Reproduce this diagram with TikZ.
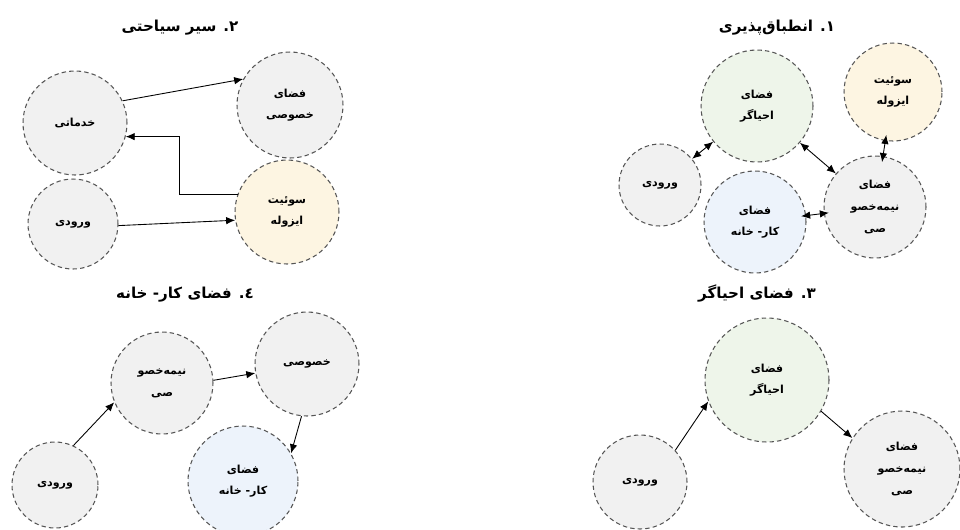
\documentclass[tikz,border=0pt]{standalone}
\usepackage{fontspec}
\usetikzlibrary{arrows.meta}
\newfontfamily\farsi[Script=Arabic]{DejaVu Sans}
\TeXXeTstate=1
\newcommand{\fa}[1]{\beginR #1\endR}
\definecolor{zonegray}{HTML}{F1F1F1}
\definecolor{zonegreen}{HTML}{EEF5EA}
\definecolor{zoneyellow}{HTML}{FDF5E2}
\definecolor{zoneblue}{HTML}{EDF3FB}
\definecolor{zoneedge}{HTML}{555555}
\tikzset{
	zone/.style={circle, draw=zoneedge, line width=0.6pt, dash pattern=on 2.5pt off 1.8pt, fill=zonegray, inner sep=0pt, align=center, font=\farsi\bfseries\fontsize{6.3}{12.3}\selectfont},
	paneltitle/.style={font=\farsi\bfseries\fontsize{8.6}{10}\selectfont},
	link/.style={-{Latex[length=1.8mm,width=1.5mm]}, line width=0.5pt},
	twolink/.style={{Latex[length=1.8mm,width=1.5mm]}-{Latex[length=1.8mm,width=1.5mm]}, line width=0.5pt}
}
\begin{document}
\begin{tikzpicture}[x=0.02cm,y=-0.02cm]
			\useasboundingbox (0,0) rectangle (960,529);
			\node[paneltitle] (t2) at (180,28) {\fa{۲. سیر سیاحتی}};
			\node[zone, minimum size=2.08cm] (khad2) at (75,123) {\fa{خدماتی}};
			\node[zone, minimum size=2.12cm] (priv2) at (290,105) {\fa{فضای}\\\fa{خصوصی}};
			\node[zone, minimum size=1.8cm] (entr2) at (73,224) {\fa{ورودی}};
			\node[zone, fill=zoneyellow, minimum size=2.08cm] (iso2) at (287,212) {\fa{سوئیت}\\\fa{ایزوله}};
			\draw[link] (khad2.25) -- (priv2.151);
			\draw[link] (iso2.160) -- ++(-58,0) |- (khad2.-15);
			\draw[link] (entr2.-2) -- (iso2.189);
			\node[paneltitle] (t1) at (777,28) {\fa{۱. انطباق‌پذیری}};
			\node[zone, fill=zonegreen, minimum size=2.24cm] (rev1) at (757,106) {\fa{فضای}\\\fa{احیاگر}};
			\node[zone, fill=zoneyellow, minimum size=1.96cm] (iso1) at (893,92) {\fa{سوئیت}\\\fa{ایزوله}};
			\node[zone, minimum size=1.64cm] (entr1) at (660,185) {\fa{ورودی}};
			\node[zone, fill=zoneblue, minimum size=2.04cm] (work1) at (755,222) {\fa{فضای}\\\fa{کار- خانه}};
			\node[zone, minimum size=2.04cm] (semi1) at (875,207) {\fa{فضای}\\\fa{نیمه‌خصو}\\\fa{صی}};
			\draw[twolink] (entr1) -- (rev1);
			\draw[twolink] (rev1) -- (semi1);
			\draw[twolink, shorten <=-0.12cm, shorten >=-0.12cm] (iso1) -- (semi1);
			\draw[twolink, shorten <=-0.1cm, shorten >=-0.1cm] (work1) -- (semi1);
			\node[paneltitle] (t4) at (185,295) {\fa{٤. فضای کار- خانه}};
			\node[zone, minimum size=2.04cm] (semi4) at (162,383) {\fa{نیمه‌خصو}\\\fa{صی}};
			\node[zone, minimum size=2.08cm] (priv4) at (307,364) {\fa{خصوصی}};
			\node[zone, minimum size=1.72cm] (entr4) at (55,485) {\fa{ورودی}};
			\node[zone, fill=zoneblue, minimum size=2.2cm] (work4) at (243,481) {\fa{فضای}\\\fa{کار- خانه}};
			\draw[link] (entr4.65) -- (semi4.202);
			\draw[link] (semi4.3) -- (priv4.190);
			\draw[link] (priv4.264) -- (work4.30);
			\node[paneltitle] (t3) at (757,293) {\fa{۳. فضای احیاگر}};
			\node[zone, fill=zonegreen, minimum size=2.48cm] (rev3) at (767,380) {\fa{فضای}\\\fa{احیاگر}};
			\node[zone, minimum size=1.88cm] (entr3) at (640,482) {\fa{ورودی}};
			\node[zone, minimum size=2.32cm] (semi3) at (902,469) {\fa{فضای}\\\fa{نیمه‌خصو}\\\fa{صی}};
			\draw[link] (entr3.42) -- (rev3.200);
			\draw[link] (rev3.-30) -- (semi3.148);
\end{tikzpicture}
\end{document}
